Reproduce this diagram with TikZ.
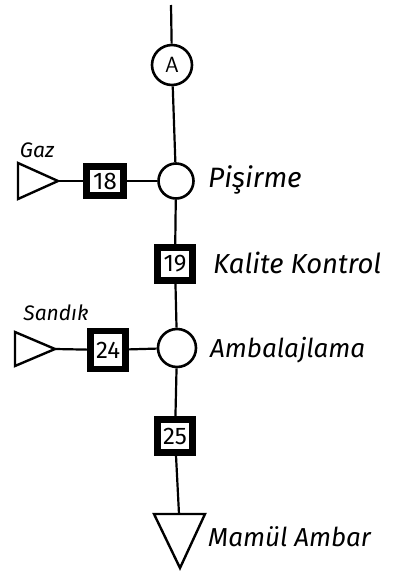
\documentclass[tikz,border=0pt]{standalone}
\usepackage{fontspec}
\setmainfont{Fira Sans}
\begin{document}
\begin{tikzpicture}[x=1pt,y=-1pt,
  line/.style={line width=2.2pt},
  opcircle/.style={circle,draw,line width=2.6pt,inner sep=0pt},
  numbox/.style={draw,line width=6.5pt,fill=white,inner sep=0pt,minimum width=35pt,minimum height=33pt,font=\fontsize{24}{24}\selectfont},
  lbl/.style={anchor=west,inner sep=0pt,font=\itshape\fontsize{26}{26}\selectfont},
  slbl/.style={inner sep=0pt,font=\itshape\fontsize{21}{21}\selectfont},
  tri/.style={line width=2.4pt,line join=miter}]
\useasboundingbox (0,0) rectangle (405,574);
% main vertical chain
\coordinate (top) at (171,5);
\node[opcircle,minimum size=40pt,font=\sffamily\fontsize{22}{22}\selectfont] (A) at (172,65) {A};
\node[opcircle,minimum size=35pt] (pis) at (176,181) {};
\node[numbox] (b19) at (175,264) {19};
\node[opcircle,minimum size=38pt] (amb) at (177,348) {};
\node[numbox] (b25) at (175,436) {25};
\coordinate (mtop) at (179,514);
\draw[tri] (154,514) -- (205,514) -- (180,568) -- cycle;
% side inputs
\coordinate (gaztip) at (58,181);
\draw[tri] (18,163) -- (gaztip) -- (18,199) -- cycle;
\node[numbox,minimum width=37pt,minimum height=29pt] (b18) at (105,181) {18};
\coordinate (sandiktip) at (55,349);
\draw[tri] (15,332) -- (sandiktip) -- (15,366) -- cycle;
\node[numbox,minimum height=38pt] (b24) at (108,350) {24};
% connectors
\draw[line] (top) -- (A);
\draw[line] (A) -- (pis);
\draw[line] (pis) -- (b19);
\draw[line] (b19) -- (amb);
\draw[line] (amb) -- (b25);
\draw[line] (b25) -- (mtop);
\draw[line] (gaztip) -- (b18);
\draw[line] (b18) -- (pis);
\draw[line] (sandiktip) -- (b24);
\draw[line] (b24) -- (amb);
% labels
\node[slbl] (lgaz) at (37,150) {Gaz};
\node[slbl] (lsandik) at (56,313) {Sandık};
\node[lbl,font=\itshape\fontsize{28}{28}\selectfont] (lpis) at (208,180) {Pişirme};
\node[lbl,font=\itshape\fontsize{27.5}{27.5}\selectfont] (lkal) at (213,263) {Kalite Kontrol};
\node[lbl] (lamb) at (210,350) {Ambalajlama};
\node[lbl] (lmam) at (208,537) {Mamül Ambar};
\end{tikzpicture}
\end{document}
